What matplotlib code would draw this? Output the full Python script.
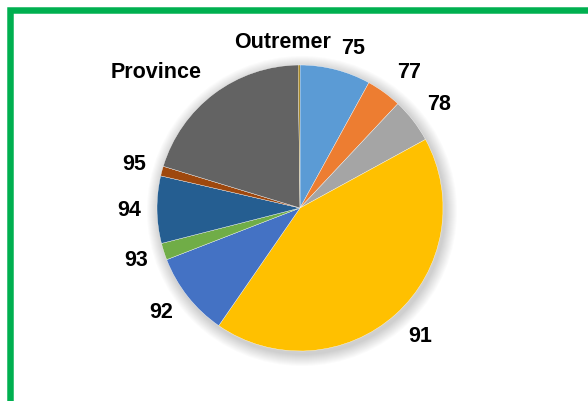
import matplotlib
matplotlib.use("Agg")
import matplotlib.pyplot as plt
from matplotlib.patches import Rectangle, Circle

categories = ["75", "77", "78", "91", "92", "93", "94", "95", "Province", "Outremer"]
values = [8.0, 4.0, 5.05, 42.6, 9.5, 1.9, 7.6, 1.1, 20.1, 0.2]
colors = ["#5B9BD5", "#ED7D31", "#A5A5A5", "#FFC000", "#4472C4",
          "#70AD47", "#255E91", "#9E480E", "#636363", "#997300"]
# label centres in pixel coordinates (x from left, y from top)
label_pos = [(353, 49), (409, 72), (439, 104), (420, 336), (161, 313),
             (136, 261), (129, 210), (134, 164), (156, 73), (283, 43)]

W, H = 588, 401
fig = plt.figure(figsize=(W / 100, H / 100), dpi=100)
ax = fig.add_axes([0, 0, 1, 1])
ax.set_axis_off()

cx, cy, r = 300, H - 208, 143

# soft shadow
for i in range(12):
    ax.add_patch(Circle((cx + 2, cy - 3), r + 1 + i * 1.0, color="black",
                        alpha=0.014, lw=0, zorder=0))

ax.pie(values, colors=colors, startangle=90, counterclock=False,
       center=(cx, cy), radius=r,
       wedgeprops=dict(edgecolor="white", linewidth=0.25), frame=True)

for lab, (x, y) in zip(categories, label_pos):
    ax.text(x, H - y, lab, ha="center", va="center", fontsize=15.5,
            fontweight="bold", family="Liberation Sans", color="black", zorder=5)

ax.add_patch(Rectangle((9.5, -20), 800, H - 10 + 20, fill=False,
                       edgecolor="#00B050", linewidth=6.5 * 72 / 100, zorder=6,
                       clip_on=False))

ax.set_xlim(0, W)
ax.set_ylim(0, H)
ax.set_aspect("equal")
ax.set_axis_off()
fig.savefig("out.png", dpi=100, facecolor="white")
